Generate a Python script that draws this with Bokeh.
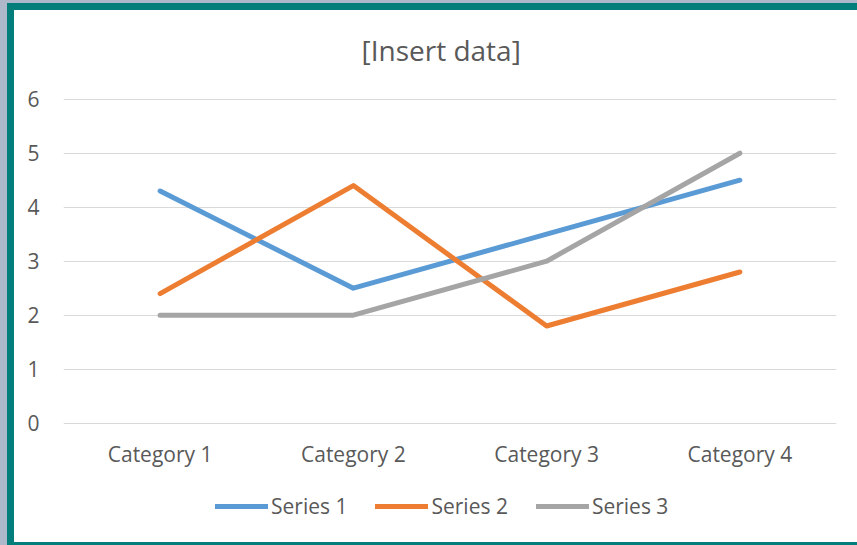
from bokeh.plotting import figure
from bokeh.models import Range1d, FactorRange, FixedTicker, Legend, LegendItem
from bokeh.embed import file_html
from bokeh.resources import INLINE

categories = ["Category 1", "Category 2", "Category 3", "Category 4"]
series_names = ["Series 1", "Series 2", "Series 3"]
series1 = [4.3, 2.5, 3.5, 4.5]
series2 = [2.4, 4.4, 1.8, 2.8]
series3 = [2.0, 2.0, 3.0, 5.0]
y_ticks = [0, 1, 2, 3, 4, 5, 6]
colors = ["#5B9BD5", "#ED7D31", "#A5A5A5"]

FONT = "Open Sans"
TXT = "#595959"
TEAL = "#047E7A"
OUTER = "#ADB9CA"

p = figure(
    width=857, height=545,
    x_range=FactorRange(*categories),
    y_range=Range1d(-2.265, 6.05),
    output_backend="svg", toolbar_location=None,
    min_border_left=63, min_border_right=21,
    min_border_top=96, min_border_bottom=0,
)
p.styles = {
    "background-color": "white",
    "box-shadow": (f"inset 7px 3px 0 0 {OUTER}, inset 14px 10px 0 0 {TEAL}, "
                   f"inset 0 -3px 0 0 {TEAL}"),
}
p.outline_line_color = None
p.background_fill_alpha = 0
p.border_fill_alpha = 0

p.title.text = "[Insert data]"
p.title.align = "left"
p.title.offset = 298
p.title.text_font = FONT
p.title.text_font_size = "28px"
p.title.text_font_style = "normal"
p.title.text_color = TXT
p.title.standoff = 56

p.xgrid.grid_line_color = None
p.ygrid.grid_line_color = "#D9D9D9"
p.ygrid.grid_line_width = 1

p.yaxis.ticker = FixedTicker(ticks=y_ticks)
for ax in (p.xaxis[0], p.yaxis[0]):
    ax.axis_line_color = None
    ax.major_tick_line_color = None
    ax.minor_tick_line_color = None
    ax.major_tick_out = 0
    ax.major_tick_in = 0
    ax.major_label_text_font = FONT
    ax.major_label_text_font_size = "21px"
    ax.major_label_text_color = TXT
p.yaxis.major_label_standoff = 24
p.xaxis.fixed_location = 0
p.xaxis.major_label_standoff = 17

items = []
for name, vals, c in zip(series_names, [series1, series2, series3], colors):
    r = p.line(x=categories, y=vals, line_width=5, line_color=c,
               line_cap="round", line_join="round")
    items.append(LegendItem(label=name, renderers=[r]))

legend = Legend(
    items=items, orientation="horizontal", location=(152, 25),
    glyph_width=53, glyph_height=20, label_standoff=3, spacing=28,
    border_line_color=None, background_fill_alpha=0,
    label_text_font=FONT, label_text_font_size="21px", label_text_color=TXT,
    padding=0, margin=0,
)
p.add_layout(legend, "center")

open("out.html", "w").write(file_html(p, INLINE))
